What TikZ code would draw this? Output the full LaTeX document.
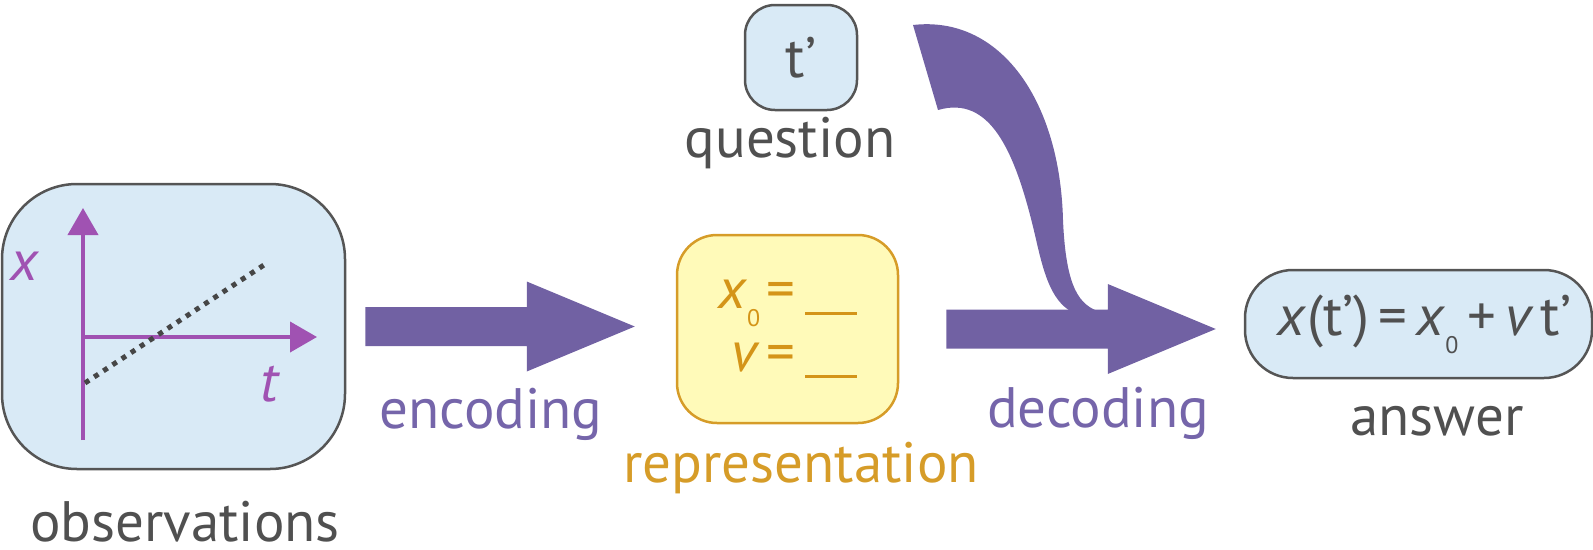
\documentclass[tikz,border=0pt]{standalone}
\usepackage{fontspec}
\setmainfont{PT Sans}
\usetikzlibrary{arrows.meta,calc}
\definecolor{boxblue}{RGB}{217,234,246}
\definecolor{boxgray}{RGB}{85,85,85}
\definecolor{labelgray}{RGB}{80,80,80}
\definecolor{arrowpurple}{RGB}{113,97,163}
\definecolor{stagepurple}{RGB}{117,101,170}
\definecolor{axispurple}{RGB}{160,82,178}
\definecolor{dotgray}{RGB}{70,70,70}
\definecolor{repyellow}{RGB}{255,250,185}
\definecolor{repdraw}{RGB}{214,156,40}
\definecolor{reptext}{RGB}{212,148,24}
\newcommand{\sub}[1]{\raisebox{-18pt}{\fontsize{24}{24}\selectfont #1}}
\newcommand{\blank}{\rule[-6pt]{52pt}{3pt}}
\newcommand{\eqsign}{\hspace{6pt}=\hspace{10pt}}
% fat arrow between two points at the same height
\newcommand{\fatarrow}[2]{%
  \fill[fatarrow] ($(#1)+(0,-19.5)$) -- ($(#2)+(-108,-19.5)$) -- ($(#2)+(-108,-45)$)
    -- (#2) -- ($(#2)+(-108,45)$) -- ($(#2)+(-108,19.5)$) -- ($(#1)+(0,19.5)$) -- cycle;}
\tikzset{
  bigfont/.style={font=\fontsize{57}{63}\selectfont},
  databox/.style={draw=boxgray,line width=2.5pt,fill=boxblue,inner sep=0pt,bigfont,text=labelgray},
  repbox/.style={draw=repdraw,line width=2.5pt,fill=repyellow,inner sep=0pt,bigfont,text=reptext,align=right},
  caption/.style={bigfont,text=labelgray,anchor=base,inner sep=0pt,text depth=0pt},
  stagelabel/.style={caption,text=stagepurple},
  replabel/.style={caption,text=repdraw},
  axislabel/.style={bigfont,text=axispurple,inner sep=0pt},
  fatarrow/.style={fill=arrowpurple},
  axis/.style={draw=axispurple,line width=4pt,-{Triangle[length=27pt,width=30pt]}},
  fitline/.style={draw=dotgray,line width=5pt,dash pattern=on 5pt off 6pt}
}
\begin{document}
\begin{tikzpicture}[x=1pt,y=-1pt]
  \useasboundingbox (0,0) rectangle (1593,549);
  % observations
  \node[databox,rounded corners=75pt,minimum width=343pt,minimum height=285pt] (obs) at (173.5,326.5) {};
  \draw[axis] (83,440) -- (83,208);
  \draw[axis] (83,337) -- (317,337);
  \draw[fitline] (85,383) -- (267,263);
  \node[axislabel] (xlbl) at (25,266) {\textit{x}};
  \node[axislabel] (tlbl) at (271,384) {\textit{t}};
  \node[caption] (obscap) at (185,541) {observations};
  % representation
  \node[repbox,rounded corners=40pt,minimum width=221pt,minimum height=188pt] (rep) at (787.5,329)
    {\textit{x}\sub{0}\eqsign\blank\\ \textit{v}\eqsign\blank};
  \node[replabel] (repcap) at (801,482) {representation};
  % question
  \node[databox,rounded corners=30pt,minimum width=112pt,minimum height=105pt] (quest) at (801,57.5) {t’};
  \node[caption] (questcap) at (790,157) {question};
  % answer
  \node[databox,rounded corners=48pt,minimum width=347pt,minimum height=108pt] (ans) at (1418.5,324)
    {\hspace{12pt}\textit{x}(t’)\hspace{9pt}=\hspace{9pt}\textit{x}\sub{0}\hspace{9pt}+\hspace{9pt}\textit{v}\hspace{7pt}t’};
  \node[caption] (anscap) at (1437,435) {answer};
  % encoding and decoding
  \coordinate (encA) at ([xshift=19pt]obs.east);
  \coordinate (encB) at ([xshift=-41pt]rep.west |- encA);
  \fatarrow{encA}{encB}
  \node[stagelabel] (enccap) at (491,428) {encoding};
  \coordinate (decA) at ([xshift=47pt]rep.east);
  \coordinate (decB) at ([xshift=-28pt]ans.west |- decA);
  \fatarrow{decA}{decB}
  \fill[fatarrow] (913,25) .. controls (1000,15) and (1060,100) .. (1063,220)
    .. controls (1066,290) and (1080,305) .. (1100,312) -- (1072,312)
    .. controls (1050,300) and (1043,270) .. (1035,235)
    .. controls (1015,150) and (990,95) .. (938,110) -- cycle;
  \node[stagelabel] (deccap) at (1098,427) {decoding};
\end{tikzpicture}
\end{document}
